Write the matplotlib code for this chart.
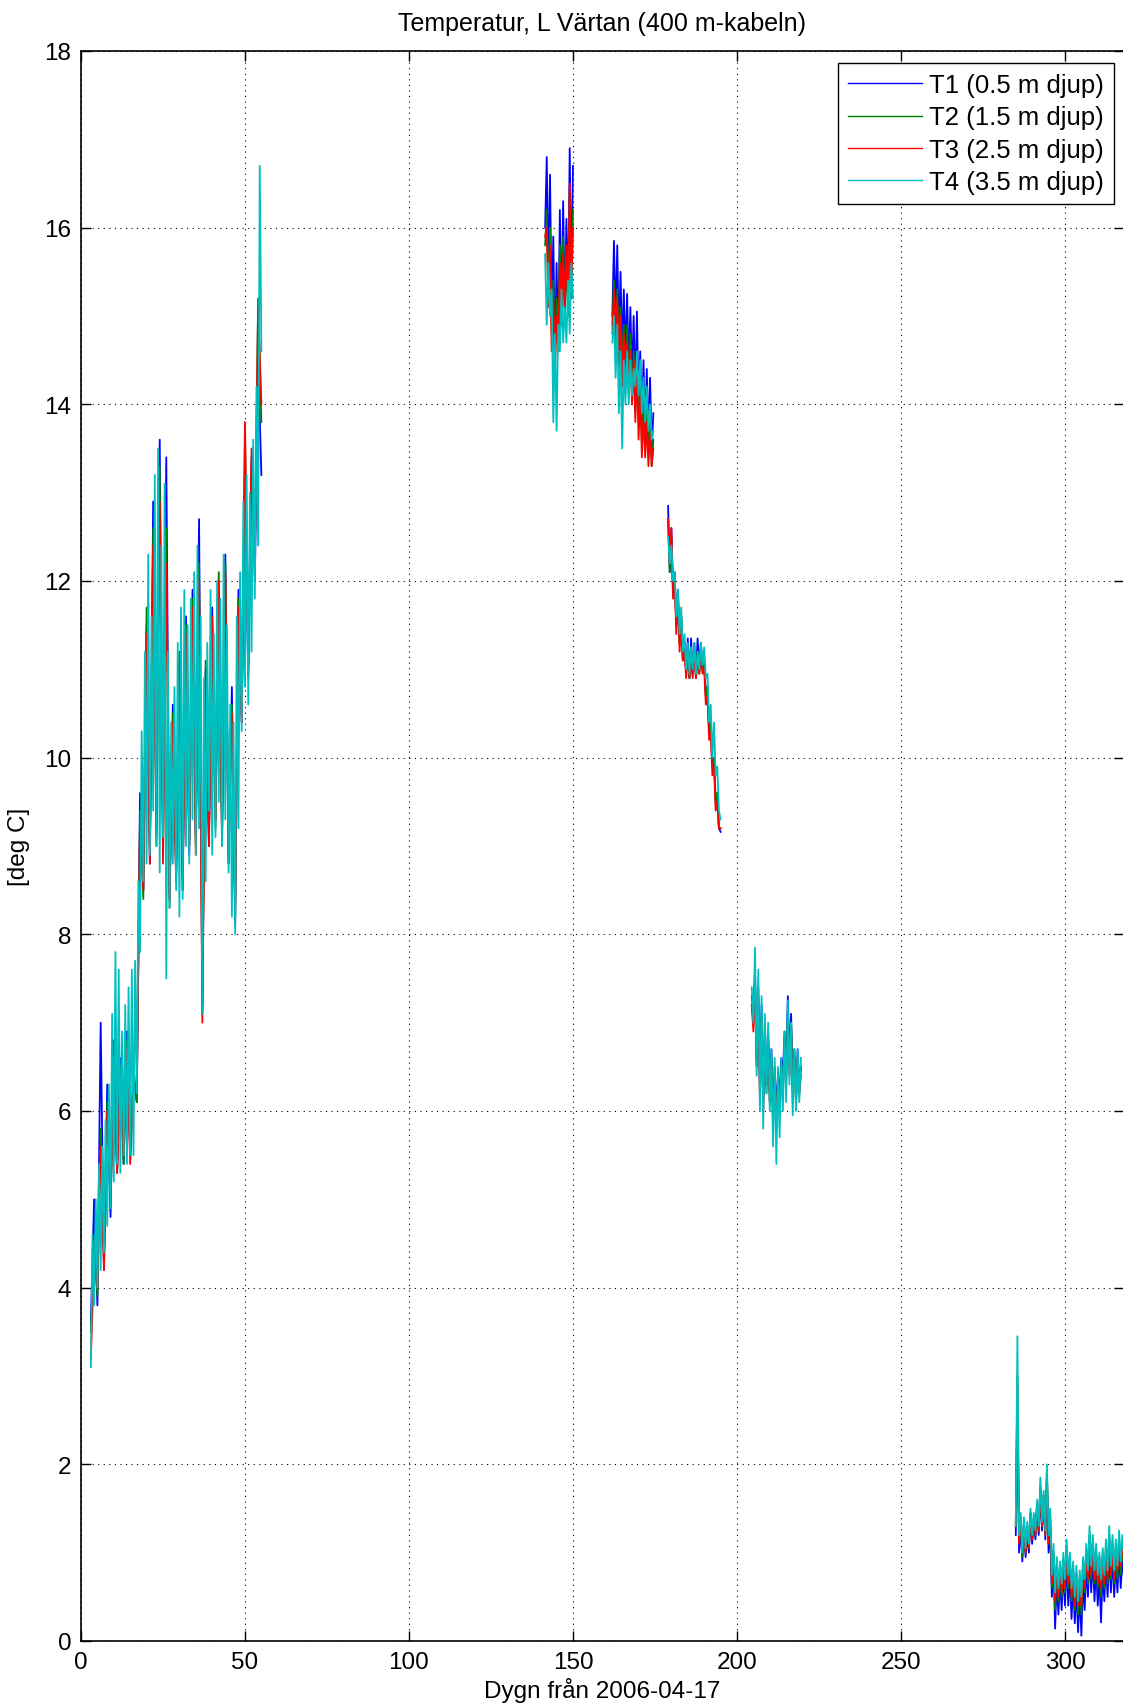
import numpy as np
import matplotlib
matplotlib.use("Agg")
import matplotlib.pyplot as plt

plt.rcParams['font.family'] = ['Liberation Sans Narrow', 'Liberation Sans', 'DejaVu Sans']

# -----------------------------
# Data (deg C), one list per logger and segment
# Each segment: start day, sampling step (days), values
# -----------------------------
seg_start = [3.0, 141.5, 162.0, 179.0, 204.5, 285.0]
step_fine = 0.5
step_coarse = 1.0   # T1-T3 in the first segment

# T4 (3.5 m djup) - cyan, drawn on top
t4_seg1 = [3.1, 4.6, 3.8, 5.0, 4.0, 5.4, 4.2, 5.6, 4.4, 5.9, 4.7, 6.3, 4.9, 7.1, 5.2, 7.8,
           5.4, 7.6, 5.3, 6.9, 5.5, 7.2, 5.4, 7.4, 5.5, 7.6, 5.5, 7.7, 6.2, 8.6, 7.8, 10.3,
           8.6, 11.2, 8.8, 12.3, 8.9, 11.6, 9.4, 13.2, 9.0, 13.5, 8.7, 12.4, 9.1, 13.1, 7.5, 11.2,
           8.3, 10.4, 8.8, 10.8, 8.5, 11.3, 8.2, 11.7, 8.4, 11.9, 9.0, 11.5, 8.8, 11.8, 9.3, 12.1,
           8.9, 12.4, 9.2, 11.6, 7.1, 10.9, 8.6, 11.3, 9.4, 11.9, 8.9, 11.4, 9.1, 12.0, 9.5, 11.8,
           9.0, 12.3, 9.3, 11.5, 8.7, 10.6, 8.2, 10.4, 8.0, 11.6, 9.2, 12.1, 10.3, 12.9, 10.8, 13.2,
           10.6, 13.0, 11.2, 13.6, 11.8, 14.2, 12.4, 16.7, 14.6]
t4_seg2 = [15.7, 14.9, 15.6, 15.0, 15.3, 13.8, 14.8, 13.7, 14.9, 14.6, 15.3, 14.7, 15.1, 14.7,
           15.4, 14.8, 15.6, 15.2]
t4_seg3 = [14.7, 15.0, 14.3, 14.9, 13.9, 14.6, 13.5, 14.5, 14.0, 14.6, 14.0, 14.5, 14.1, 14.4,
           14.2, 14.6, 14.1, 14.5, 13.9, 14.3, 13.8, 14.2, 13.7, 14.0, 13.6, 13.7]
t4_seg4 = [12.5, 12.2, 12.4, 12.0, 12.1, 11.6, 11.9, 11.4, 11.7, 11.2, 11.4, 11.0, 11.3, 10.95,
           11.25, 11.0, 11.3, 10.95, 11.2, 11.0, 11.3, 11.05, 11.25, 10.9, 10.95, 10.4, 10.6, 10.0,
           10.4, 9.8, 9.9, 9.4, 9.3]
t4_seg5 = [7.4, 7.0, 7.85, 6.4, 7.6, 6.0, 7.3, 5.8, 7.1, 6.2, 7.0, 6.0, 6.7, 5.6, 6.6, 5.4,
           6.5, 5.7, 6.6, 6.0, 6.9, 6.1, 7.25, 6.3, 7.0, 5.95, 6.7, 6.0, 6.7, 6.1, 6.6]
t4_seg6 = [1.3, 3.45, 1.2, 1.45, 1.0, 1.4, 1.05, 1.35, 1.1, 1.5, 1.2, 1.45, 1.25, 1.6, 1.3, 1.85,
           1.35, 1.7, 1.25, 2.0, 1.2, 1.5, 0.75, 1.1, 0.55, 0.95, 0.6, 0.9, 0.65, 1.0, 0.7, 1.15,
           0.75, 1.0, 0.6, 0.9, 0.5, 0.85, 0.45, 0.8, 0.5, 0.95, 0.7, 1.1, 0.8, 1.3, 0.85, 1.2,
           0.8, 1.1, 0.75, 1.0, 0.7, 1.05, 0.75, 1.15, 0.8, 1.3, 0.85, 1.2, 0.8, 1.15, 0.85, 1.25,
           0.9, 1.2, 1.0]

# T1 (0.5 m djup) - blue
t1_seg1 = [3.6, 5.0, 3.8, 7.0, 4.2, 6.3, 4.8, 6.8, 5.3, 6.6, 5.4, 6.9, 5.5, 6.4, 6.1, 9.6,
           8.5, 11.5, 8.8, 12.9, 9.2, 13.6, 9.0, 13.4, 8.4, 10.6, 8.6, 11.0, 8.5, 11.6, 8.9, 11.9,
           9.1, 12.7, 7.2, 11.0, 9.0, 11.7, 9.3, 11.9, 9.1, 12.3, 8.8, 10.8, 8.1, 11.9, 10.4, 13.0,
           10.9, 13.4, 12.0, 14.5, 13.2]
t1_seg2 = [16.0, 16.8, 15.4, 16.6, 15.0, 15.9, 14.5, 15.6, 14.6, 16.2, 14.9, 16.3, 15.0, 16.1,
           15.1, 16.9, 15.3, 16.7]
t1_seg3 = [15.0, 15.85, 14.9, 15.8, 14.7, 15.5, 14.6, 15.3, 14.5, 15.25, 14.4, 15.1, 14.3, 15.0,
           14.1, 15.05, 14.0, 14.6, 13.8, 14.5, 13.7, 14.4, 13.6, 14.3, 13.5, 13.9]
t1_seg4 = [12.85, 12.1, 12.6, 11.9, 12.1, 11.5, 11.9, 11.3, 11.6, 11.1, 11.3, 10.95, 11.35, 10.9,
           11.35, 10.95, 11.3, 10.9, 11.35, 11.0, 11.3, 11.0, 11.1, 10.7, 10.8, 10.3, 10.4, 9.9,
           10.0, 9.5, 9.6, 9.2, 9.16]
t1_seg5 = [7.3, 7.1, 7.6, 6.6, 7.4, 6.3, 7.2, 6.1, 7.0, 6.3, 6.9, 6.2, 6.7, 6.0, 6.5, 6.0,
           6.4, 6.2, 6.6, 6.4, 6.9, 6.5, 7.3, 6.6, 7.1, 6.3, 6.7, 6.2, 6.7, 6.3, 6.5]
t1_seg6 = [1.2, 2.6, 1.0, 1.3, 0.9, 1.3, 0.95, 1.2, 1.0, 1.4, 1.1, 1.35, 1.15, 1.5, 1.2, 1.7,
           1.25, 1.6, 1.15, 1.8, 1.0, 1.3, 0.5, 0.9, 0.14, 0.7, 0.3, 0.7, 0.35, 0.8, 0.4, 0.9,
           0.4, 0.75, 0.25, 0.65, 0.2, 0.6, 0.1, 0.55, 0.06, 0.7, 0.35, 0.85, 0.5, 1.0, 0.55, 0.95,
           0.45, 0.85, 0.4, 0.75, 0.21, 0.8, 0.45, 0.9, 0.5, 1.0, 0.55, 0.95, 0.5, 0.9, 0.55, 1.0,
           0.6, 0.95, 0.7]

# T2 (1.5 m djup) - green
t2_seg1 = [3.5, 4.5, 3.9, 5.8, 4.3, 6.1, 4.9, 6.6, 5.3, 6.5, 5.4, 6.8, 5.5, 6.5, 6.1, 9.4,
           8.4, 11.7, 8.9, 12.6, 9.1, 13.3, 8.9, 12.6, 8.3, 10.5, 8.7, 11.2, 8.6, 11.5, 9.0, 11.8,
           9.0, 12.2, 7.1, 11.1, 9.1, 11.5, 9.2, 12.1, 9.0, 12.2, 8.9, 10.6, 8.2, 11.8, 10.5, 13.7,
           11.0, 13.3, 12.2, 15.2, 13.8]
t2_seg2 = [15.8, 16.2, 15.2, 16.0, 14.8, 15.4, 14.4, 15.2, 14.7, 15.8, 14.9, 15.9, 15.0, 15.7,
           15.0, 16.4, 15.2, 16.2]
t2_seg3 = [14.9, 15.4, 14.7, 15.3, 14.6, 15.1, 14.4, 14.9, 14.3, 14.9, 14.2, 14.8, 14.1, 14.6,
           13.9, 14.6, 13.8, 14.3, 13.6, 14.2, 13.5, 14.0, 13.4, 13.9, 13.3, 13.6]
t2_seg4 = [12.7, 12.1, 12.5, 11.9, 12.0, 11.5, 11.8, 11.3, 11.6, 11.1, 11.3, 10.95, 11.2, 10.9,
           11.2, 10.95, 11.2, 10.9, 11.2, 10.95, 11.2, 11.0, 11.1, 10.7, 10.8, 10.3, 10.4, 9.9,
           10.0, 9.5, 9.6, 9.2, 9.2]
t2_seg5 = [7.2, 7.0, 7.5, 6.5, 7.3, 6.2, 7.1, 6.1, 6.9, 6.3, 6.8, 6.1, 6.6, 5.9, 6.4, 5.9,
           6.3, 6.1, 6.5, 6.3, 6.8, 6.4, 7.1, 6.5, 7.0, 6.2, 6.6, 6.1, 6.6, 6.2, 6.5]
t2_seg6 = [1.3, 3.0, 1.1, 1.4, 0.95, 1.35, 1.0, 1.3, 1.05, 1.45, 1.15, 1.4, 1.2, 1.55, 1.25, 1.75,
           1.3, 1.65, 1.2, 1.9, 1.1, 1.4, 0.6, 1.0, 0.35, 0.85, 0.45, 0.8, 0.5, 0.9, 0.55, 1.05,
           0.6, 0.9, 0.45, 0.8, 0.35, 0.75, 0.3, 0.7, 0.3, 0.85, 0.55, 1.0, 0.65, 1.2, 0.7, 1.1,
           0.65, 1.0, 0.6, 0.9, 0.5, 0.95, 0.6, 1.05, 0.65, 1.2, 0.7, 1.1, 0.65, 1.05, 0.7, 1.15,
           0.75, 1.1, 0.85]

# T3 (2.5 m djup) - red
t3_seg1 = [3.2, 4.3, 4.0, 5.6, 4.2, 6.0, 5.0, 6.5, 5.3, 6.4, 5.5, 6.7, 5.4, 6.3, 6.2, 9.3,
           8.5, 11.4, 8.8, 12.4, 9.0, 12.9, 8.8, 12.2, 8.4, 10.4, 8.6, 11.1, 8.5, 11.4, 9.0, 11.7,
           8.9, 12.0, 7.0, 10.9, 9.0, 11.6, 9.3, 12.0, 9.1, 12.1, 8.8, 10.5, 8.3, 11.7, 10.4, 13.8,
           11.1, 13.5, 12.3, 15.1, 14.0]
t3_seg2 = [15.9, 16.0, 15.1, 15.8, 14.6, 15.2, 14.4, 15.0, 14.6, 15.6, 14.9, 15.7, 15.1, 15.8,
           15.1, 16.5, 15.3, 16.0]
t3_seg3 = [14.8, 15.3, 14.6, 15.2, 14.4, 15.0, 14.2, 14.8, 14.3, 14.7, 14.1, 14.6, 14.0, 14.5,
           13.8, 14.4, 13.6, 14.1, 13.4, 13.9, 13.4, 13.8, 13.3, 13.7, 13.3, 13.5]
t3_seg4 = [12.7, 12.2, 12.6, 11.8, 12.0, 11.4, 11.8, 11.2, 11.5, 11.1, 11.2, 10.9, 11.2, 10.9,
           11.1, 10.9, 11.2, 10.9, 11.1, 10.95, 11.1, 10.95, 11.0, 10.6, 10.7, 10.2, 10.3, 9.8,
           9.9, 9.4, 9.5, 9.2, 9.2]
t3_seg5 = [7.2, 6.9, 7.4, 6.5, 7.2, 6.1, 7.0, 6.0, 6.8, 6.2, 6.8, 6.1, 6.5, 5.8, 6.4, 5.8,
           6.3, 6.0, 6.4, 6.2, 6.7, 6.3, 7.0, 6.4, 6.9, 6.1, 6.6, 6.1, 6.6, 6.2, 6.4]
t3_seg6 = [1.3, 2.9, 1.1, 1.4, 1.0, 1.35, 1.0, 1.3, 1.05, 1.45, 1.15, 1.4, 1.2, 1.55, 1.25, 1.75,
           1.3, 1.65, 1.2, 1.9, 1.1, 1.4, 0.65, 1.0, 0.45, 0.85, 0.5, 0.85, 0.55, 0.9, 0.6, 1.05,
           0.65, 0.9, 0.5, 0.8, 0.4, 0.75, 0.4, 0.7, 0.4, 0.85, 0.6, 1.0, 0.7, 1.15, 0.75, 1.1,
           0.7, 1.0, 0.65, 0.95, 0.6, 0.95, 0.65, 1.05, 0.7, 1.15, 0.75, 1.1, 0.7, 1.05, 0.8, 1.1,
           0.85, 1.05, 0.95]

labels = ["T1 (0.5 m djup)", "T2 (1.5 m djup)", "T3 (2.5 m djup)", "T4 (3.5 m djup)"]
colors = ["#0000ff", "#008000", "#ff0000", "#00bfbf"]


def build_series(segments, first_step):
    """Join segments into one time/value pair, NaN between gaps."""
    t_all, y_all = [], []
    for i, vals in enumerate(segments):
        step = first_step if i == 0 else step_fine
        t = seg_start[i] + step * np.arange(len(vals))
        t_all.extend(list(t) + [np.nan])
        y_all.extend(list(vals) + [np.nan])
    return np.array(t_all), np.array(y_all)


series = [
    build_series([t1_seg1, t1_seg2, t1_seg3, t1_seg4, t1_seg5, t1_seg6], step_coarse),
    build_series([t2_seg1, t2_seg2, t2_seg3, t2_seg4, t2_seg5, t2_seg6], step_coarse),
    build_series([t3_seg1, t3_seg2, t3_seg3, t3_seg4, t3_seg5, t3_seg6], step_coarse),
    build_series([t4_seg1, t4_seg2, t4_seg3, t4_seg4, t4_seg5, t4_seg6], step_fine),
]

# -----------------------------
# Plot
# -----------------------------
fig = plt.figure(figsize=(11.23, 17.08), dpi=100)
ax = fig.add_axes([81 / 1123, 1 - 1642 / 1708, 1043 / 1123, 1590 / 1708])

for (t, y), lab, col in zip(series, labels, colors):
    ax.plot(t, y, color=col, linewidth=1.3, label=lab)

ax.set_xlim(0, 318)
ax.set_ylim(0, 18)
ax.set_xticks(np.arange(0, 301, 50))
ax.set_yticks(np.arange(0, 19, 2))
ax.grid(True, color="black", linestyle=(0, (1, 4)), linewidth=0.8)
ax.tick_params(direction="in", length=7, width=1, labelsize=17.5,
               top=True, right=True, pad=7)
for sp in ax.spines.values():
    sp.set_linewidth(1.2)

ax.set_title("Temperatur, L Värtan (400 m-kabeln)", fontsize=18, pad=15)
ax.set_xlabel("Dygn från 2006-04-17", fontsize=17.5, labelpad=3)
ax.set_ylabel("[deg C]", fontsize=17.5, labelpad=10)

leg = ax.legend(loc="upper right", bbox_to_anchor=(1114 / 1123, 1 - 64 / 1708),
                bbox_transform=fig.transFigure, fontsize=18.5, frameon=True,
                fancybox=False, borderaxespad=0, borderpad=0.4, labelspacing=0.32,
                handlelength=2.9, handletextpad=0.25)
leg.get_frame().set_edgecolor("black")
leg.get_frame().set_linewidth(1.0)
leg.get_frame().set_alpha(1)
for line in leg.get_lines():
    line.set_linewidth(1.0)

fig.savefig("out.png", dpi=100)
